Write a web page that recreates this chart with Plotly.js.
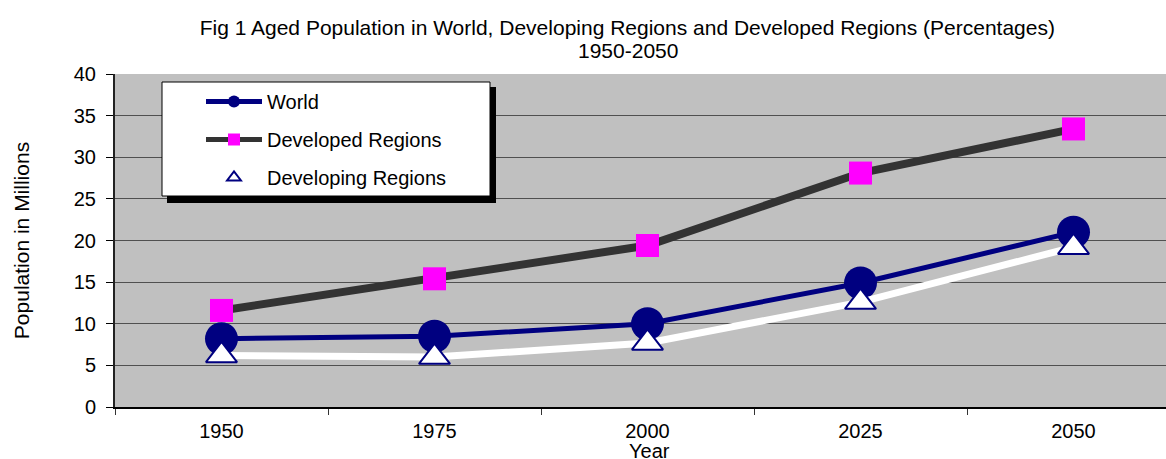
<!DOCTYPE html>
<html>
<head>
<meta charset="utf-8">
<script src="https://cdn.plot.ly/plotly-3.0.1.min.js"></script>
<style>html,body{margin:0;padding:0;background:#fff;}#chart{width:1166px;height:459px;}</style>
</head>
<body>
<div id="chart"></div>
<script>
// ---- data ----
var years = ["1950", "1975", "2000", "2025", "2050"];
var world = [8.2, 8.5, 10.0, 14.9, 21.0];
var developed = [11.6, 15.4, 19.4, 28.1, 33.4];
var developing = [6.2, 6.0, 7.7, 12.6, 19.2];
var seriesNames = ["World", "Developed Regions", "Developing Regions"];
var yTicks = [0, 5, 10, 15, 20, 25, 30, 35, 40];
var titleLine1 = "Fig 1 Aged Population in World, Developing Regions and Developed Regions (Percentages)";
var titleLine2 = "1950-2050";
var xTitle = "Year";
var yTitle = "Population in Millions";

// ---- layout geometry (pixels) ----
var W = 1166, H = 459;
var mL = 115, mR = 0, mT = 74, mB = 52;
var plotW = W - mL - mR, plotH = H - mT - mB;
function px2x(px) { return (px - mL) / plotW; }
function py2y(py) { return (H - mB - py) / plotH; }

var font = "Liberation Sans, Arial, sans-serif";

var traces = [
  {
    x: years, y: world, name: seriesNames[0], type: "scatter", mode: "lines+markers",
    legendgroup: "a",
    line: {color: "#000080", width: 5},
    marker: {symbol: "circle", size: 33, color: "#000080"}
  },
  {
    x: years, y: developed, name: seriesNames[1], type: "scatter", mode: "lines+markers",
    legendgroup: "b",
    line: {color: "#333333", width: 8},
    marker: {symbol: "square", size: 23, color: "#ff00ff"}
  },
  {
    x: years, y: developing, name: seriesNames[2], type: "scatter", mode: "lines+markers",
    legendgroup: "c",
    line: {color: "#ffffff", width: 7},
    marker: {symbol: "triangle-up", size: 27, color: "#ffffff", line: {color: "#000080", width: 2}}
  }
];

var layout = {
  width: W, height: H,
  margin: {l: mL, r: mR, t: mT, b: mB, pad: 0},
  paper_bgcolor: "#ffffff",
  plot_bgcolor: "#c0c0c0",
  font: {family: font, size: 20, color: "#000"},
  title: {
    text: titleLine1,
    font: {family: font, size: 21, color: "#000"},
    xref: "container", x: 0.538, xanchor: "center",
    yref: "container", y: 1 - 28 / H, yanchor: "middle"
  },
  annotations: [
    {text: titleLine2, xref: "paper", yref: "paper",
     x: px2x(628), y: py2y(50), xanchor: "center", yanchor: "middle",
     showarrow: false, font: {family: font, size: 21, color: "#000"}},
    {text: xTitle, xref: "paper", yref: "paper",
     x: px2x(649), y: py2y(451), xanchor: "center", yanchor: "middle",
     showarrow: false, font: {family: font, size: 20, color: "#000"}}
  ],
  xaxis: {
    type: "category",
    categoryorder: "array", categoryarray: years,
    range: [-0.5, -0.5 + 5 * (plotW / 1065)],
    tickson: "boundaries",
    ticks: "outside", ticklen: 6, tickcolor: "#333",
    showline: true, linecolor: "#000", linewidth: 2,
    showgrid: false, zeroline: false,
    tickfont: {family: font, size: 20},
    ticklabelstandoff: 5
  },
  yaxis: {
    range: [0, 40], tickvals: yTicks, ticktext: yTicks.map(String),
    ticks: "outside", ticklen: 7, tickcolor: "#000",
    showline: true, linecolor: "#222", linewidth: 2,
    showgrid: true, gridcolor: "#505050", gridwidth: 1,
    zeroline: false,
    tickfont: {family: font, size: 20},
    ticklabelstandoff: 6,
    title: {text: yTitle, font: {family: font, size: 21}, standoff: 38}
  },
  showlegend: true,
  legend: {
    x: px2x(201), y: py2y(82), xanchor: "left", yanchor: "top",
    bgcolor: "rgba(0,0,0,0)", borderwidth: 0,
    traceorder: "grouped", tracegroupgap: 9,
    itemwidth: 56, itemsizing: "constant",
    font: {family: font, size: 20, color: "#000"}
  },
  shapes: [
    {type: "rect", xref: "paper", yref: "paper", layer: "above",
     x0: px2x(167), x1: px2x(496), y0: py2y(87), y1: py2y(203),
     fillcolor: "#000", line: {width: 0}},
    {type: "rect", xref: "paper", yref: "paper", layer: "above",
     x0: px2x(162), x1: px2x(490), y0: py2y(82), y1: py2y(196),
     fillcolor: "#fff", line: {color: "#000", width: 1}}
  ]
};

Plotly.newPlot("chart", traces, layout, {displayModeBar: false, staticPlot: true});
</script>
</body>
</html>
